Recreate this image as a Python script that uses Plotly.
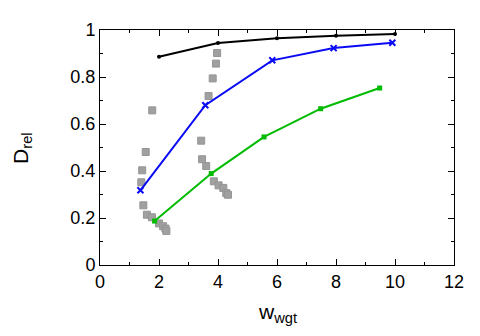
import plotly.graph_objects as go

# black series
black_x = [2, 4, 6, 8, 10]
black_y = [0.886, 0.945, 0.965, 0.976, 0.983]

# blue series
blue_x = [1.37, 3.57, 5.84, 7.92, 9.91]
blue_y = [0.318, 0.680, 0.871, 0.923, 0.946]

# green series
green_x = [1.85, 3.77, 5.56, 7.48, 9.48]
green_y = [0.187, 0.389, 0.545, 0.665, 0.753]

# gray scatter squares
gray_x = [1.77, 3.97, 3.93, 3.82, 3.68, 3.43, 1.55, 1.43, 1.40, 1.47, 1.59, 1.76,
          2.00, 2.14, 2.22, 2.25, 3.46, 3.60, 3.86, 4.02, 4.18, 4.28, 4.34]
gray_y = [0.658, 0.902, 0.857, 0.794, 0.719, 0.529, 0.481, 0.403, 0.352, 0.254, 0.214, 0.203,
          0.177, 0.165, 0.155, 0.145, 0.450, 0.421, 0.356, 0.339, 0.328, 0.306, 0.299]

FONT = "Liberation Sans, Arial"

fig = go.Figure()
fig.add_trace(go.Scatter(
    x=gray_x, y=gray_y, mode="markers",
    marker=dict(symbol="square", size=7, color="#a0a0a0",
                line=dict(color="#959595", width=1)),
))
fig.add_trace(go.Scatter(
    x=black_x, y=black_y, mode="lines+markers",
    line=dict(color="black", width=2),
    marker=dict(symbol="circle", size=4, color="black"),
))
fig.add_trace(go.Scatter(
    x=blue_x, y=blue_y, mode="lines+markers",
    line=dict(color="#0a0af5", width=2),
    marker=dict(symbol="x-thin", size=6, line=dict(color="#0a0af5", width=2)),
))
fig.add_trace(go.Scatter(
    x=green_x, y=green_y, mode="lines+markers",
    line=dict(color="#00bb00", width=2),
    marker=dict(symbol="square", size=5, color="#00bb00"),
))

axis_common = dict(
    showgrid=False, zeroline=False, showline=True, linecolor="black", linewidth=1,
    mirror="ticks", ticks="inside", ticklen=6, tickcolor="black",
    tickfont=dict(family=FONT, size=18, color="black"),
)

fig.update_xaxes(
    **axis_common, range=[0, 12], dtick=2, tick0=0,
    minor=dict(ticks="inside", dtick=1, ticklen=3, tickcolor="black"),
)
fig.update_yaxes(
    **axis_common, range=[0, 1], dtick=0.2, tick0=0,
    minor=dict(ticks="inside", dtick=0.1, ticklen=3, tickcolor="black"),
)

# axis titles as annotations so they sit where the reference has them
fig.add_annotation(
    text="w<sub>wgt</sub>", xref="paper", yref="paper", x=0.5, y=-0.205,
    xanchor="center", yanchor="middle", showarrow=False,
    font=dict(family=FONT, size=21, color="black"),
)
fig.add_annotation(
    text="D<sub>rel</sub>", xref="paper", yref="paper", x=-0.222, y=0.5,
    xanchor="center", yanchor="middle", textangle=-90, showarrow=False,
    font=dict(family=FONT, size=21, color="black"),
)

fig.update_layout(
    width=480, height=336,
    paper_bgcolor="white", plot_bgcolor="white",
    margin=dict(l=92, r=34, t=22, b=79),
    showlegend=False,
)

fig.write_html("out.html")
